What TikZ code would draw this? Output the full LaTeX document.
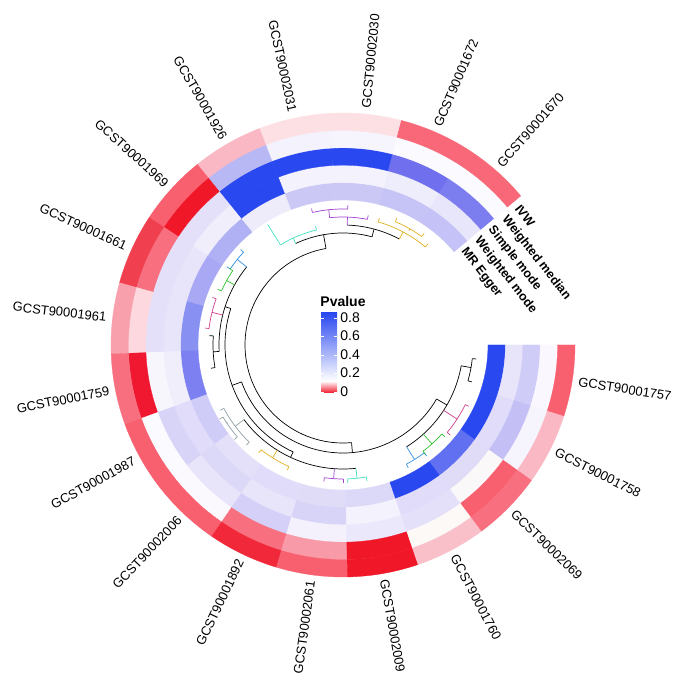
\documentclass[tikz,border=0pt]{standalone}
\usepackage{fontspec}
\setmainfont{Liberation Sans}
\newcommand\Cell[3]{\definecolor{cc}{HTML}{#3}%
 \pgfmathsetmacro\aa{40+17.7778*#1}\pgfmathsetmacro\ab{\aa+17.7778}%
 \pgfmathsetmacro\ra{145+17.4*#2}\pgfmathsetmacro\rb{\ra+17.4}%
 \fill[cc,draw=cc,line width=0.3] (\aa:\ra) arc[start angle=\aa,end angle=\ab,radius=\ra] -- (\ab:\rb) arc[start angle=\ab,end angle=\aa,radius=\rb] -- cycle;}
\newcommand\Sect[7]{\Cell{#1}{0}{#3}\Cell{#1}{1}{#4}\Cell{#1}{2}{#5}\Cell{#1}{3}{#6}\Cell{#1}{4}{#7}%
 \pgfmathsetmacro\am{40+17.7778*(#1+0.5)}%
 \pgfmathtruncatemacro\isleft{ifthenelse(\am>90 && \am<270,1,0)}%
 \ifnum\isleft=1 \pgfmathsetmacro\rot{\am-180}\node[lab,anchor=east,rotate=\rot] (lab#1) at (\am:238) {GCST9000#2};%
 \else \node[lab,anchor=west,rotate=\am] (lab#1) at (\am:238) {GCST9000#2};\fi}
\newcommand\DArc[4]{\draw[#4] (#2:#1) arc[start angle=#2,end angle=#3,radius=#1];}
\newcommand\DStem[4]{\draw[#4] (#1:#2) -- (#1:#3);}
\newcommand\Clus[6]{% mid, parent r, r, a, b, color
 \DStem{#1}{#2}{#3}{#6}\DArc{#3}{#4}{#5}{#6}\DStem{#4}{#3}{#3+4}{#6}\DStem{#5}{#3}{#3+4}{#6}}
\definecolor{cyn}{HTML}{40E0C0}
\definecolor{pur}{HTML}{A040D0}
\definecolor{yel}{HTML}{E0B020}
\definecolor{blu}{HTML}{3090E0}
\definecolor{grn}{HTML}{30C030}
\definecolor{mag}{HTML}{D04090}
\definecolor{gry}{HTML}{90A0A8}
\definecolor{red0}{HTML}{F01828}
\definecolor{blue0}{HTML}{2A48F0}
\begin{document}
\begin{tikzpicture}[x=1pt,y=1pt,
  lab/.style={font=\fontsize{13}{15}\selectfont,inner sep=0pt},
  rlab/.style={font=\bfseries\fontsize{12.5}{14}\selectfont,inner sep=0pt,anchor=west,rotate=-52},
  tk/.style={font=\fontsize{14}{16}\selectfont,anchor=west,inner sep=0pt},
  every path/.append style={line width=0.7}]
\useasboundingbox (0,0) rectangle (685,690);
\fill[white] (0,0) rectangle (685,690);
\begin{scope}[shift={(343,345)}]
\Sect{0}{1670}{C4C2F6}{E8E6FA}{7C7EF0}{FBFAFE}{F86878}
\Sect{1}{1672}{C6C4F6}{EEEDFB}{7070EE}{FBFAFE}{F86878}
\Sect{2}{2030}{CCC8F6}{F4F2FC}{2A48F0}{F6F4FC}{FDE0E4}
\Sect{3}{2031}{CCC8F6}{F4F2FC}{2A48F0}{F4F2FC}{FDE0E4}
\Sect{4}{1926}{EEECFB}{2A48F0}{2A48F0}{B8B8F4}{FAB8C4}
\Sect{5}{1969}{B0B0F4}{F0EEFB}{E4E0FA}{F01828}{F86070}
\Sect{6}{1661}{A8A8F4}{E8E4FA}{E4E0FA}{F87080}{F04050}
\Sect{7}{1961}{8890F2}{E8E4FA}{E4E0FA}{FDD8DE}{F8A0AC}
\Sect{8}{1759}{7C80F0}{F0EEFB}{F8F6FD}{F01830}{F87080}
\Sect{9}{1987}{D0CCF8}{E0DCFA}{D8D4F8}{FBFAFE}{F86070}
\Sect{10}{2006}{E4E0FA}{DCD8F8}{E8E4FA}{FBF9FE}{F86070}
\Sect{11}{1892}{E0DCFA}{E8E4FA}{D4D0F8}{F87080}{F0283A}
\Sect{12}{2061}{E0DCF8}{D8D4F8}{F4F0FC}{F89AA8}{F86070}
\Sect{13}{2009}{DCD8F8}{F4F2FC}{ECE8FB}{F01828}{F01828}
\Sect{14}{1760}{2A48F0}{E0DCFA}{E4E0FA}{FDF9F6}{FAC0CA}
\Sect{15}{2069}{6070F0}{E0DCF8}{FAF8F8}{F86070}{F87080}
\Sect{16}{1758}{2A48F0}{E0DCFA}{C4C0F6}{F6F4FC}{FAB8C4}
\Sect{17}{1757}{2A48F0}{E8E4FA}{D0CCF8}{FAF8FE}{F86070}
% ring labels
\node[rlab] (rIVW) at (38.5:223) {IVW};
\node[rlab] (rWM) at (38.5:206) {Weighted median};
\node[rlab] (rSM) at (38.5:188.5) {Simple mode};
\node[rlab] (rWMo) at (38.5:171) {Weighted mode};
\node[rlab] (rMRE) at (38.5:153.5) {MR Egger};
% dendrogram
\DArc{98}{100}{275}{black}
\DStem{100}{98}{112}{black}\DArc{112}{75}{115}{black}
\Clus{115}{112}{118}{103}{122}{cyn}\DStem{122}{122}{142}{cyn}
\DStem{75}{112}{120}{black}\DArc{120}{62}{88}{black}
\Clus{88}{120}{128}{79}{96}{pur}\Clus{96}{132}{136}{88}{103}{pur}
\Clus{62}{120}{128}{50}{74}{yel}\Clus{60}{132}{134}{54}{67}{yel}
\DStem{275}{98}{108}{black}\DArc{108}{200}{330}{black}
\DStem{200}{108}{118}{black}\DArc{118}{162}{245}{black}
\DStem{162}{118}{124}{black}\DArc{124}{141}{183}{black}
\Clus{141}{124}{136}{137}{146}{blu}
\Clus{151}{124}{133}{146}{156}{grn}
\Clus{166}{124}{135}{160}{173}{mag}
\Clus{183}{124}{130}{176}{190}{black}
\DStem{245}{118}{124}{black}\DArc{124}{217}{276}{black}
\Clus{217}{124}{135}{208}{226}{gry}\Clus{214}{139}{140}{211}{221}{gry}
\Clus{238}{124}{133}{232}{246}{yel}
\Clus{266}{124}{134}{262}{270}{pur}
\Clus{276}{124}{134}{272}{280}{cyn}
\DStem{330}{108}{120}{black}\DArc{120}{302}{350}{black}
\Clus{302}{120}{135}{298}{307}{blu}
\Clus{312}{120}{133}{307}{318}{grn}
\Clus{327}{120}{136}{320}{334}{mag}
\Clus{350}{120}{130}{344}{354}{black}
\end{scope}
% legend
\node[font=\bfseries\fontsize{14}{16}\selectfont,inner sep=0pt] (ptitle) at (343,388) {Pvalue};
\shade[bottom color=red0,top color=white] (321,297) rectangle (337,309);
\shade[bottom color=white,top color=blue0] (321,309) rectangle (337,377);
\foreach \yy/\t [count=\k] in {298/0,317/0.2,335/0.4,354/0.6,372/0.8}{
  \draw[white,line width=0.8] (321,\yy) -- (324,\yy) (334,\yy) -- (337,\yy);
  \node[tk] (tick\k) at (340,\yy) {\t};}
\end{tikzpicture}
\end{document}
